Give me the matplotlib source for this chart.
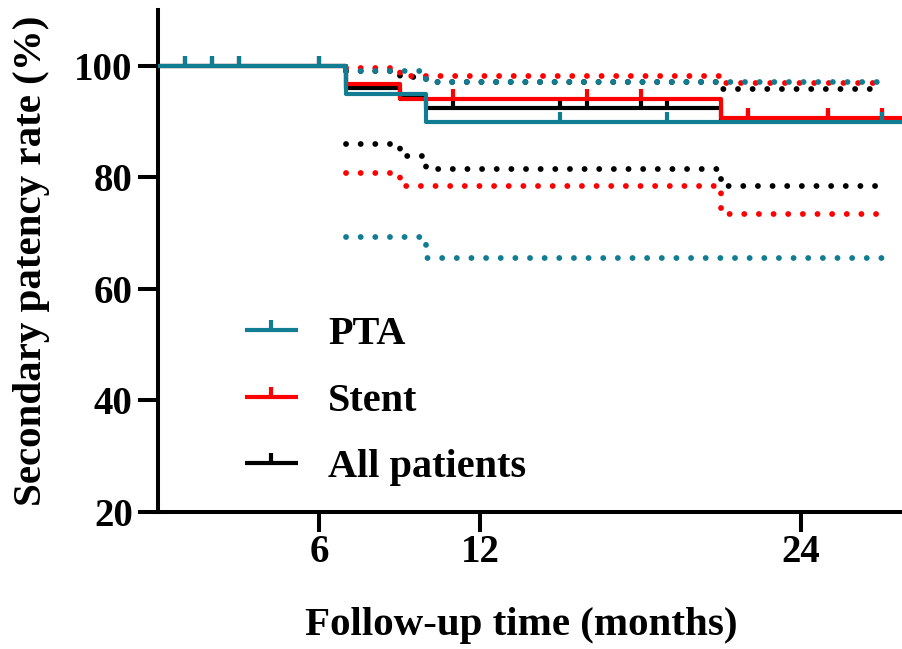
import numpy as np
import matplotlib
matplotlib.use("Agg")
import matplotlib.pyplot as plt
from matplotlib.legend_handler import HandlerTuple

plt.rcParams["font.family"] = ["Liberation Serif", "DejaVu Serif"]
plt.rcParams["font.weight"] = "bold"

# Kaplan-Meier estimates (secondary patency, %)
pta_t = [0, 7, 10, 28]
pta_s = [100, 95.0, 89.9, 89.9]
stent_t = [0, 7, 9, 21, 28]
stent_s = [100, 96.8, 94.1, 90.6, 90.6]
all_t = [0, 7, 9, 10, 21, 28]
all_s = [100, 96.1, 94.3, 92.4, 90.3, 90.3]

# 95% confidence bands
pta_ci_t = [7, 10, 27]
pta_lo = [69.3, 65.5, 65.5]
pta_hi = [99.2, 97.2, 97.2]
stent_ci_t = [7, 9, 21, 27]
stent_lo = [80.8, 78.5, 73.5, 73.5]
stent_hi = [99.6, 98.3, 96.9, 96.9]
all_ci_t = [7, 9, 10, 21, 27]
all_lo = [86.0, 83.9, 81.5, 78.5, 78.5]
all_hi = [99.2, 98.1, 97.2, 95.8, 95.8]

# censored times
pta_cens = [1, 2, 3, 6, 15, 19, 27]
stent_cens = [11, 16, 18, 22, 25, 27]
all_cens = [1, 2, 3, 6, 11, 15, 16, 18, 19, 22, 25, 27]

labels = ["PTA", "Stent", "All patients"]
TEAL = "#117d93"
colors = [TEAL, "#ff0000", "#000000"]

fig = plt.figure(figsize=(9.03, 6.49), dpi=100)
ax = fig.add_axes([158.5 / 903, 1 - 511.5 / 649, (903 - 158.5) / 903, (511.5 - 10.4) / 649])

groups = [
    (pta_t, pta_s, pta_ci_t, pta_lo, pta_hi, pta_cens),
    (stent_t, stent_s, stent_ci_t, stent_lo, stent_hi, stent_cens),
    (all_t, all_s, all_ci_t, all_lo, all_hi, all_cens),
]

handles = []
for i, (t, s, ct, lo, hi, cens) in enumerate(groups):
    z = 3 - i
    col = colors[i]
    line, = ax.step(t, s, where="post", color=col, lw=3, zorder=z + 3,
                    solid_capstyle="butt")
    for band in (lo, hi):
        ax.step(ct, band, where="post", color=col, lw=4.2,
                linestyle=(0, (0.01, 2.5)), dash_capstyle="round", zorder=z)
    idx = np.searchsorted(t, cens, side="right") - 1
    cy = np.asarray(s)[idx]
    mk, = ax.plot(cens, cy, linestyle="none", marker=2, markersize=7.5,
                  markeredgewidth=3, color=col, zorder=z + 3)
    handles.append((line, mk))

ax.set_xlim(0, 27.8)
ax.set_ylim(20, 110)
ax.set_xticks([6, 12, 24])
ax.set_yticks([20, 40, 60, 80, 100])

for side in ("top", "right"):
    ax.spines[side].set_visible(False)
for side in ("left", "bottom"):
    ax.spines[side].set_linewidth(2.9)

ax.tick_params(axis="both", length=14.5, width=2.9, labelsize=28)
ax.tick_params(axis="x", pad=2)
ax.tick_params(axis="y", pad=4)

ax.set_xlabel("Follow-up time (months)", fontsize=29.5, fontweight="bold")
ax.set_ylabel("Secondary patency rate (%)", fontsize=29.5, fontweight="bold")
ax.xaxis.set_label_coords((521 - 158.5) / 744.5, -0.19)
ax.yaxis.set_label_coords(-0.146, 0.5)

ax.legend(handles, labels, handler_map={tuple: HandlerTuple(ndivide=1)},
          loc="center left", bbox_to_anchor=(0.116, 0.2205), frameon=False,
          fontsize=29, handlelength=1.32, handletextpad=0.75, labelspacing=0.73,
          borderpad=0, borderaxespad=0, numpoints=1)

fig.savefig("out.png", dpi=100)
